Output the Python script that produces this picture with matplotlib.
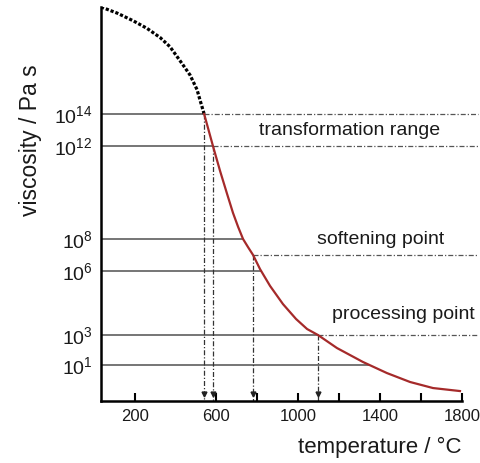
import numpy as np
import matplotlib.pyplot as plt

plt.rcParams['font.family'] = ['Liberation Sans', 'DejaVu Sans']
plt.rcParams['mathtext.fontset'] = 'custom'
plt.rcParams['mathtext.rm'] = 'Liberation Sans'
plt.rcParams['mathtext.it'] = 'Liberation Sans'

# glass region (dotted), temperature in degC vs log10 viscosity
glass_T = [36, 115, 193, 261, 325, 373, 432, 471, 505, 520, 540]
glass_logeta = [21.0, 20.6, 20.1, 19.6, 19.0, 18.4, 17.3, 16.55, 15.6, 14.9, 14.0]

# melt curve (red)
melt_T = [540, 583, 618, 652, 681, 706, 730, 754, 779, 813, 862, 925, 989,
          1043, 1096, 1189, 1316, 1433, 1546, 1658, 1790]
melt_logeta = [14.0, 12.0, 10.92, 9.94, 9.12, 8.52, 8.0, 7.5, 7.0, 6.12, 5.30,
               4.45, 3.75, 3.28, 3.0, 2.13, 1.2, 0.44, -0.18, -0.6, -0.81]

ytick_exp = [14, 12, 8, 6, 3, 1]
marked_levels = [14, 12, 7, 3]   # levels with dash-dot lines + drop lines

xticks_major = [200, 600, 1000, 1400, 1800]
xticks_minor = [800, 1200, 1600]

labels = ['transformation range', 'softening point', 'processing point']
label_T = [1250, 1400, 1515]
label_logeta = [12.95, 8.0, 3.95]

# schematic (broken) viscosity axis: exponent -> height
anchor_exp = [-1.5, 1, 3, 6, 8, 12, 14, 21]
anchor_pos = [0, 36, 66, 130, 162, 255, 287, 394]


def fwd(v):
    return np.interp(v, anchor_exp, anchor_pos)


def inv(p):
    return np.interp(p, anchor_pos, anchor_exp)


def crossing(level):
    # melt curve is decreasing, so flip for interp
    return np.interp(level, melt_logeta[::-1], melt_T[::-1])


fig = plt.figure(figsize=(4.81, 4.63), dpi=100)
ax = fig.add_axes([101 / 481, 1 - 401 / 463, 377 / 481, 394 / 463])
ax.set_yscale('function', functions=(fwd, inv))
ax.set_xlim(36, 1878)
ax.set_ylim(-1.5, 21)

x0 = 36
x_end = 1878
line_grey = '#505050'

# solid lines from axis to curve
for lv in ytick_exp:
    ax.plot([x0, crossing(lv)], [lv, lv], color=line_grey, lw=1.1, zorder=2)

# dash-dot continuation and drop lines
for lv in marked_levels:
    tc = crossing(lv)
    ax.plot([tc, x_end], [lv, lv], color='#555555', lw=0.9,
            dashes=(4, 1.6, 1, 1.6), zorder=2, clip_on=False)
    ax.plot([tc, tc], [lv, -1.5], color='#333333', lw=0.9,
            dashes=(4, 1.6, 1, 1.6), zorder=2)
    ax.plot([tc], [-1.0], marker='v', color='#222222', ms=3.5, zorder=3)

ax.plot(glass_T, glass_logeta, color='black', lw=2.3, ls=(0, (1, 0.6)), zorder=4)
ax.plot(melt_T, melt_logeta, color='#a52a2a', lw=1.6, zorder=4)

for txt, tx, ty in zip(labels, label_T, label_logeta):
    ax.text(tx, ty, txt, ha='center', va='center', fontsize=14, color='#1a1a1a')

ax.spines['top'].set_visible(False)
ax.spines['right'].set_visible(False)
ax.spines['left'].set_linewidth(1.8)
ax.spines['bottom'].set_linewidth(1.8)
ax.spines['bottom'].set_bounds(36, 1800)

ax.set_yticks(ytick_exp)
ax.set_yticklabels([r'$10^{%d}$' % e for e in ytick_exp])
ax.tick_params(axis='y', length=0, labelsize=14, pad=6, labelcolor='#1a1a1a')
ax.yaxis.set_minor_locator(plt.NullLocator())

ax.set_xticks(xticks_major)
ax.set_xticks(xticks_minor, minor=True)
ax.tick_params(axis='x', which='both', direction='in', length=6, width=1.5,
               labelsize=12, pad=6, labelcolor='#1a1a1a')

fig.text(380 / 481, 1 - 447 / 463, 'temperature / °C', ha='center', va='center',
         fontsize=16, color='#1a1a1a')
fig.text(31 / 481, 1 - 140 / 463, 'viscosity / Pa s', ha='center', va='center',
         rotation=90, fontsize=16.5, color='#1a1a1a')

fig.savefig('out.png', dpi=100)
